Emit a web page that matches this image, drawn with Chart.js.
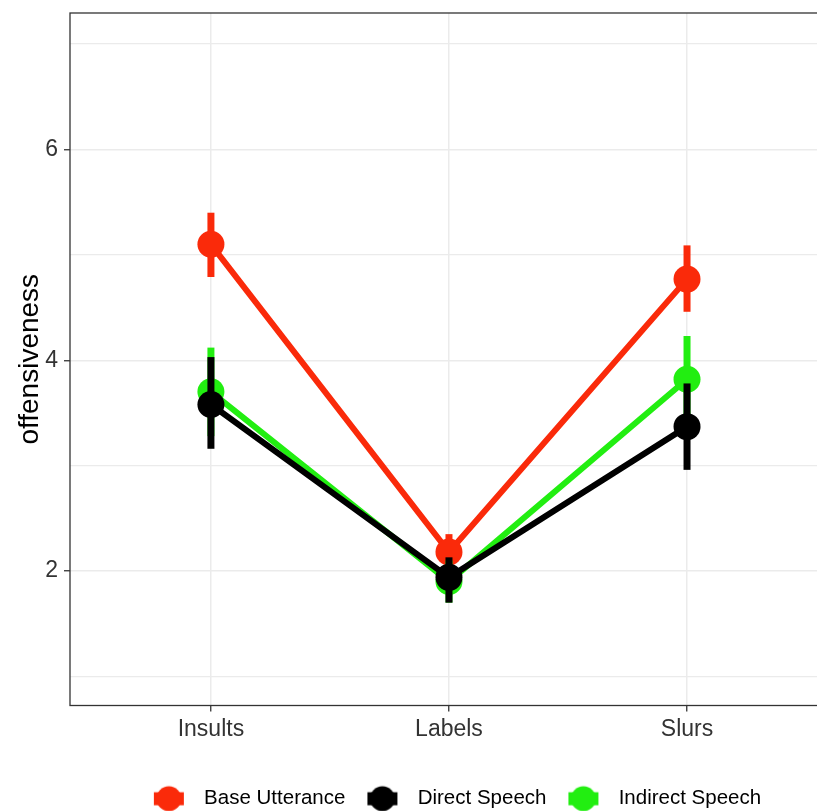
<!DOCTYPE html>
<html>
<head>
<meta charset="utf-8">
<script src="https://cdn.jsdelivr.net/npm/chart.js@4.4.0/dist/chart.umd.min.js"></script>
<style>
  html, body { margin: 0; padding: 0; background: #fff; }
  #wrap { width: 817px; height: 811px; }
</style>
</head>
<body>
<div id="wrap"><canvas id="chart"></canvas></div>
<script>
const categories = ["Insults", "Labels", "Slurs"];
const seriesNames = ["Base Utterance", "Direct Speech", "Indirect Speech"];
const seriesColors = ["#FA2A0A", "#000000", "#22EE11"];

const baseMean = [5.10, 2.18, 4.77];
const baseLow = [4.79, 2.00, 4.46];
const baseHigh = [5.40, 2.35, 5.09];

const directMean = [3.58, 1.94, 3.37];
const directLow = [3.16, 1.70, 2.96];
const directHigh = [4.03, 2.13, 3.78];

const indirectMean = [3.70, 1.90, 3.82];
const indirectLow = [3.28, 1.70, 3.42];
const indirectHigh = [4.12, 2.10, 4.23];

const yTicks = [1, 2, 3, 4, 5, 6, 7];
const yLabelled = [2, 4, 6];

const means = [baseMean, directMean, indirectMean];
const lows = [baseLow, directLow, indirectLow];
const highs = [baseHigh, directHigh, indirectHigh];
// black on top, then green, red at the back
const drawOrder = [2, 0, 1];

function legendDot(color) {
  const c = document.createElement("canvas");
  c.width = 50;
  c.height = 28;
  const g = c.getContext("2d");
  g.fillStyle = color;
  g.fillRect(10, 7.5, 30, 13);
  g.beginPath();
  g.arc(25, 14, 12.5, 0, Math.PI * 2);
  g.fill();
  return c;
}
const legendDots = seriesColors.map(legendDot);

const errorBars = {
  id: "errorBars",
  afterLayout(chart) {
    // legend sits centred on the full (wider) figure in the original
    const lg = chart.legend;
    lg.left += 44;
    lg.right += 44;
  },
  beforeDatasetDraw(chart, args) {
    const i = args.index;
    const ctx = chart.ctx;
    const xs = chart.scales.x, ys = chart.scales.y;
    ctx.save();
    ctx.strokeStyle = seriesColors[i];
    ctx.lineWidth = 7;
    ctx.lineCap = "butt";
    categories.forEach((c, j) => {
      const px = xs.getPixelForValue(j + 1);
      ctx.beginPath();
      ctx.moveTo(px, ys.getPixelForValue(lows[i][j]));
      ctx.lineTo(px, ys.getPixelForValue(highs[i][j]));
      ctx.stroke();
    });
    ctx.restore();
  },
  afterDraw(chart) {
    const a = chart.chartArea;
    const ctx = chart.ctx;
    ctx.save();
    ctx.strokeStyle = "#333333";
    ctx.lineWidth = 1.3;
    ctx.strokeRect(a.left, a.top, a.right - a.left + 5, a.bottom - a.top);
    ctx.restore();
  }
};

new Chart(document.getElementById("chart"), {
  type: "line",
  data: {
    datasets: seriesNames.map((name, i) => ({
      label: name,
      data: means[i].map((v, j) => ({ x: j + 1, y: v })),
      borderColor: seriesColors[i],
      backgroundColor: seriesColors[i],
      borderWidth: 6,
      pointRadius: 13.5,
      pointHoverRadius: 13.5,
      pointBorderWidth: 0,
      order: drawOrder[i]
    }))
  },
  options: {
    responsive: true,
    maintainAspectRatio: false,
    animation: false,
    events: [],
    layout: { autoPadding: false, padding: { top: 13, right: 0, bottom: -8, left: 0 } },
    plugins: {
      tooltip: { enabled: false },
      legend: {
        position: "bottom",
        labels: {
          usePointStyle: true,
          pointStyleWidth: 50,
          padding: 12,
          color: "#000",
          font: { family: "Liberation Sans", size: 20.5 },
          sort: (a, b) => a.datasetIndex - b.datasetIndex,
          generateLabels(chart) {
            return Chart.defaults.plugins.legend.labels.generateLabels(chart).map(item => {
              item.pointStyle = legendDots[item.datasetIndex];
              return item;
            });
          }
        }
      }
    },
    scales: {
      x: {
        type: "linear",
        min: 0.408,
        max: 3.546,
        afterFit: s => { s.height = 71; s.paddingLeft = 0; s.paddingRight = 0; },
        afterBuildTicks: s => { s.ticks = categories.map((c, j) => ({ value: j + 1 })); },
        border: { display: false },
        grid: {
          color: "#EBEBEB",
          lineWidth: 1.5,
          tickColor: "#333333",
          tickLength: 6,
          tickWidth: 1.3
        },
        ticks: {
          color: "#333333",
          padding: 4,
          font: { family: "Liberation Sans", size: 23 },
          callback: v => categories[v - 1]
        }
      },
      y: {
        min: 0.724,
        max: 7.295,
        afterFit: s => { s.width = 70; s.paddingTop = 0; s.paddingBottom = 0; },
        afterBuildTicks: s => { s.ticks = yTicks.map(v => ({ value: v })); },
        border: { display: false },
        grid: {
          color: "#EBEBEB",
          lineWidth: ctx => (ctx.tick && yLabelled.includes(ctx.tick.value)) ? 1.5 : 1.2,
          tickColor: ctx => (ctx.tick && yLabelled.includes(ctx.tick.value)) ? "#333333" : "rgba(0,0,0,0)",
          tickLength: 6,
          tickWidth: 1.3
        },
        ticks: {
          color: "#333333",
          padding: 6,
          font: { family: "Liberation Sans", size: 23 },
          callback: v => yLabelled.includes(v) ? String(v) : ""
        },
        title: {
          display: true,
          text: "offensiveness",
          color: "#000",
          padding: { top: 13, bottom: 0 },
          font: { family: "Liberation Sans", size: 28 }
        }
      }
    }
  },
  plugins: [errorBars]
});
</script>
</body>
</html>
